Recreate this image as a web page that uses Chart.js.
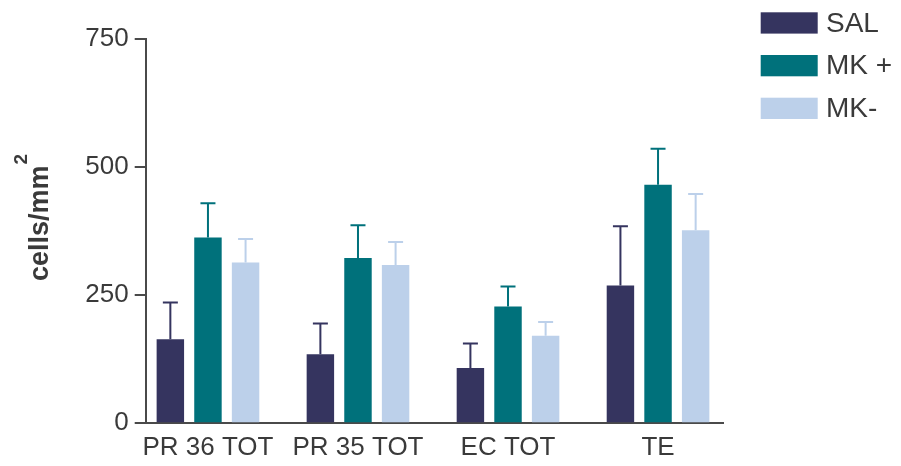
<!DOCTYPE html>
<html>
<head>
<meta charset="utf-8">
<script src="https://cdn.jsdelivr.net/npm/chart.js@4/dist/chart.umd.min.js"></script>
<style>
  html, body { margin: 0; padding: 0; background: #fff; }
  #wrap { width: 901px; height: 466px; position: relative; }
</style>
</head>
<body>
<div id="wrap"><canvas id="c" width="901" height="466"></canvas></div>
<script>
// Cell densities (cells/mm²), mean and upper error per region
const categories = ['PR 36 TOT', 'PR 35 TOT', 'EC TOT', 'TE'];
const seriesNames = ['SAL', 'MK +', 'MK-'];
const salValues = [164, 135, 108, 269];
const salErrors = [72, 60, 48, 116];
const mkPlusValues = [363, 323, 228, 466];
const mkPlusErrors = [67, 64, 39, 70];
const mkMinusValues = [314, 309, 171, 377];
const mkMinusErrors = [46, 45, 27, 71];
const yTicks = [0, 250, 500, 750];
const yTitle = 'cells/mm';
const yTitleSup = '2';

const colors = ['#35345f', '#00717b', '#bcd0ea'];
const textColor = '#3a3a3a';
const axisColor = '#4a4a4a';
const FONT = '"Liberation Sans", Arial, Helvetica, sans-serif';

// Category index axis range (groups sit at integer positions)
const X_MIN = -0.415;
const X_MAX = 3.433;

const toPoints = vals => vals.map((v, i) => ({ x: i, y: v }));

const datasets = [
  { label: seriesNames[0], data: toPoints(salValues), errors: salErrors },
  { label: seriesNames[1], data: toPoints(mkPlusValues), errors: mkPlusErrors },
  { label: seriesNames[2], data: toPoints(mkMinusValues), errors: mkMinusErrors }
].map((d, i) => Object.assign(d, {
  backgroundColor: colors[i],
  borderWidth: 0,
  categoryPercentage: 0.752,
  barPercentage: 0.73
}));

// Upper error bars with caps, in the series colour
const errorBars = {
  id: 'errorBars',
  afterDatasetsDraw(chart) {
    const ctx = chart.ctx;
    const ys = chart.scales.y;
    chart.data.datasets.forEach((ds, di) => {
      const meta = chart.getDatasetMeta(di);
      meta.data.forEach((bar, i) => {
        const top = ys.getPixelForValue(ds.data[i].y + ds.errors[i]);
        ctx.save();
        ctx.strokeStyle = ds.backgroundColor;
        ctx.lineWidth = 2;
        ctx.beginPath();
        ctx.moveTo(bar.x, bar.y);
        ctx.lineTo(bar.x, top);
        ctx.moveTo(bar.x - 7.5, top);
        ctx.lineTo(bar.x + 7.5, top);
        ctx.stroke();
        ctx.restore();
      });
    });
  }
};

// Legend block at the top right
const sideLegend = {
  id: 'sideLegend',
  afterDraw(chart) {
    const ctx = chart.ctx;
    ctx.save();
    ctx.font = '28px ' + FONT;
    ctx.textBaseline = 'middle';
    ctx.textAlign = 'left';
    chart.data.datasets.forEach((ds, i) => {
      const top = 12.3 + i * 42.7;
      ctx.fillStyle = ds.backgroundColor;
      ctx.fillRect(760.7, top, 57, 21.3);
      ctx.fillStyle = textColor;
      ctx.fillText(ds.label, 826, top + 11.5);
    });
    ctx.restore();
  }
};

// Rotated y-axis title with a raised exponent
const yAxisTitle = {
  id: 'yAxisTitle',
  afterDraw(chart) {
    const ctx = chart.ctx;
    ctx.save();
    ctx.translate(47.7, 281);
    ctx.rotate(-Math.PI / 2);
    ctx.fillStyle = textColor;
    ctx.textBaseline = 'alphabetic';
    ctx.textAlign = 'left';
    ctx.font = 'bold 27px ' + FONT;
    ctx.fillText(yTitle, 0, 0);
    const w = ctx.measureText(yTitle).width;
    ctx.font = 'bold 19px ' + FONT;
    ctx.fillText(yTitleSup, w + 1, -21);
    ctx.restore();
  }
};

new Chart(document.getElementById('c'), {
  type: 'bar',
  data: { datasets },
  plugins: [errorBars, sideLegend, yAxisTitle],
  options: {
    responsive: false,
    animation: false,
    layout: { padding: { left: 0, right: 178, top: 39.3, bottom: 0 } },
    plugins: { legend: { display: false }, tooltip: { enabled: false } },
    scales: {
      x: {
        type: 'linear',
        bounds: 'data',
        offset: false,
        min: X_MIN,
        max: X_MAX,
        afterBuildTicks: s => {
          s.ticks = categories.map((_, i) => ({ value: i }));
          s.min = X_MIN;
          s.max = X_MAX;
        },
        afterFit: s => { s.height = 42.7; },
        grid: { display: false, drawTicks: false, offset: false },
        border: { display: true, color: axisColor, width: 2 },
        ticks: {
          autoSkip: false,
          maxRotation: 0,
          padding: 9,
          color: textColor,
          font: { family: FONT, size: 26 },
          callback: v => categories[v]
        }
      },
      y: {
        min: 0,
        max: 750,
        afterBuildTicks: s => { s.ticks = yTicks.map(v => ({ value: v })); },
        afterFit: s => { s.width = 145.7; },
        grid: { display: true, drawOnChartArea: false, drawTicks: true, tickLength: 11, color: axisColor, lineWidth: 2 },
        border: { display: true, color: axisColor, width: 2 },
        ticks: {
          padding: 6,
          color: textColor,
          font: { family: FONT, size: 26 }
        }
      }
    }
  }
});
</script>
</body>
</html>
